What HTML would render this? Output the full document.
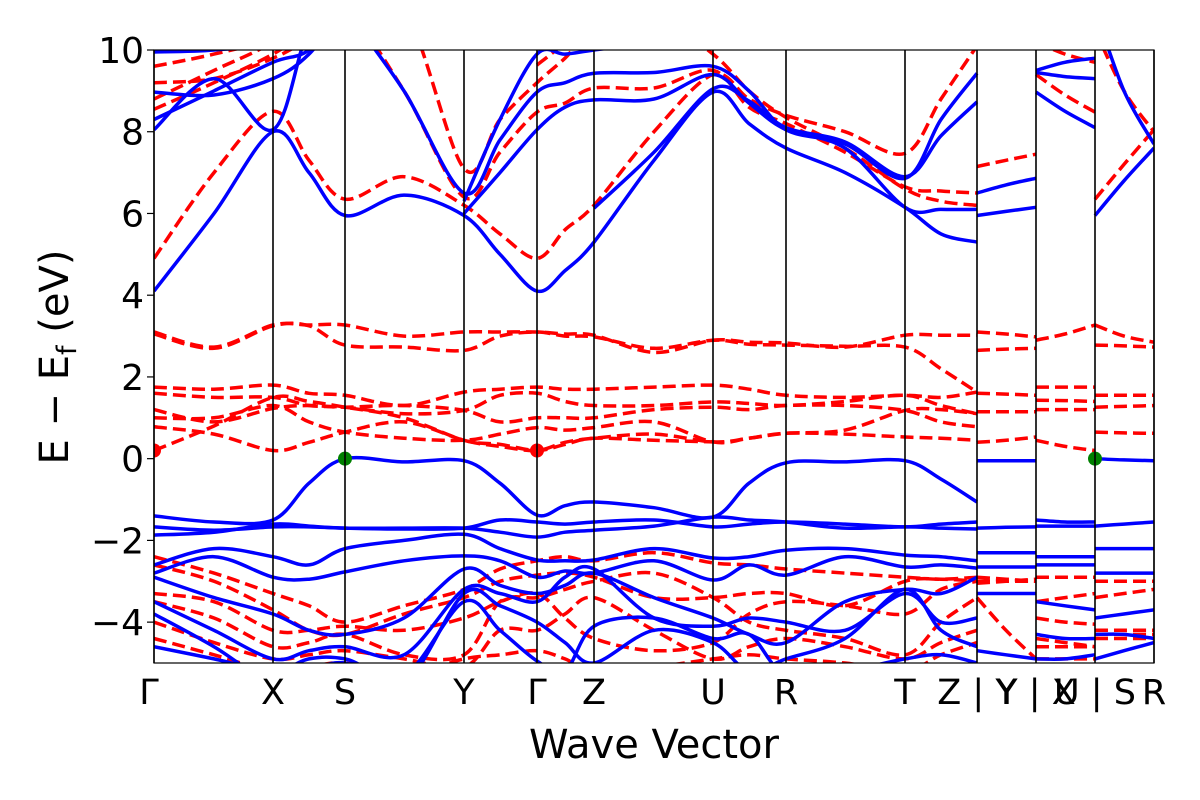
<!DOCTYPE html>
<html><head><meta charset="utf-8">
<style>
html,body{margin:0;padding:0;background:#fff;}
svg{display:block;font-family:"DejaVu Sans","Liberation Sans",sans-serif;}
</style></head>
<body>
<svg id="chart" width="1200" height="800" viewBox="0 0 1200 800" xmlns="http://www.w3.org/2000/svg">
<defs><clipPath id="clip"><rect x="154" y="50" width="1000" height="613"/></clipPath></defs>
<g id="bands" clip-path="url(#clip)"></g>
<g id="axes"></g>
<text x="654" y="758" text-anchor="middle" font-size="40">Wave Vector</text>
<text transform="translate(68,357) rotate(-90)" text-anchor="middle" font-size="40">E − E<tspan font-size="27" dy="8">f</tspan><tspan dy="-8"> (eV)</tspan></text>
</svg>
<script>
// k-path distances of sample knots (main path + three disconnected segments)
const kMain = [0,60,119,155,191,250,310,346,383,411,440,500,559,595,632,691,751,787,823];
const kSegA = [823,852,882];
const kSegB = [882,911,941];
const kSegC = [941,970,1000];
const kTicks = [0,119,191,310,383,440,559,632,751,823,882,941,1000];
const kTickLabels = ["Γ","X","S","Y","Γ","Z","U","R","T","Z | Y","Y | X","U | S","R"];
const yTicks = [-4,-2,0,2,4,6,8,10];
const yTickLabels = ["−4","−2","0","2","4","6","8","10"];
const n = null;
// spin-up (blue solid) bands: 19 main values + segA(3) + segB(3) + segC(3)
const blueBands = [
 [4.1,6.0,8.0,7.0,5.95,6.45,5.95,5.0,4.1,4.6,5.3,7.3,8.97,8.2,7.6,7.0,6.15,5.5,5.3, 5.95,6.05,6.15, n,n,n, 5.95,6.8,7.6],
 [8.05,9.3,8.05,10.5,11,n,n,n,n,n,n,n,n,n,n,n,n,n,n, n,n,n, n,n,n, n,n,n],
 [8.97,8.9,9.3,9.9,11,n,n,n,n,n,n,n,n,n,n,n,n,n,n, n,n,n, 8.97,8.5,8.1, n,n,n],
 [8.3,9.0,9.7,10.0,11,n,n,n,n,n,n,n,n,n,n,n,n,n,n, n,n,n, 9.45,9.35,9.3, n,n,n],
 [9.95,10.0,10.2,11,n,n,n,n,n,n,n,n,n,n,n,n,n,n,n, n,n,n, 9.5,9.7,9.8, n,n,n],
 [n,n,n,n,11,9.0,6.5,7.8,8.97,9.2,9.43,9.45,9.6,9.0,8.05,7.7,6.86,8.3,9.43, 6.5,6.7,6.86, n,n,n, n,n,n],
 [n,n,n,n,n,n,6.0,7.0,8.05,8.6,8.78,8.8,9.4,8.7,8.05,7.6,6.15,6.1,6.1, n,n,n, n,n,n, n,n,n],
 [n,n,n,n,n,n,6.3,8.3,9.9,9.9,10.0,10.2,10.6,n,n,n,n,n,n, n,n,n, n,n,n, 11,9.0,7.7],
 [n,n,n,n,n,n,n,n,n,n,6.13,7.5,9.05,8.75,8.1,7.75,6.9,7.9,8.73, n,n,n, n,n,n, n,n,n],
 [-1.4,-1.55,-1.5,-0.6,0,-0.08,-0.05,-0.6,-1.38,-1.15,-1.06,-1.2,-1.43,-0.6,-0.1,-0.08,-0.05,-0.5,-1.06, -0.05,-0.05,-0.05, n,n,n, 0,-0.03,-0.05],
 [-1.67,-1.75,-1.67,-1.67,-1.7,-1.72,-1.7,-1.5,-1.55,-1.6,-1.55,-1.5,-1.67,-1.6,-1.55,-1.6,-1.67,-1.6,-1.55, -1.7,-1.68,-1.67, -1.5,-1.55,-1.55, -1.65,-1.6,-1.55],
 [-1.87,-1.8,-1.6,-1.65,-1.7,-1.7,-1.7,-1.8,-1.92,-1.8,-1.75,-1.65,-1.43,-1.5,-1.55,-1.7,-1.67,-1.7,-1.72, n,n,n, -1.65,-1.65,-1.65, n,n,n],
 [-2.6,-2.2,-2.4,-2.6,-2.2,-2.0,-1.85,-2.2,-2.48,-2.5,-2.48,-2.2,-2.43,-2.4,-2.24,-2.2,-2.36,-2.4,-2.5, -2.3,-2.3,-2.3, -2.4,-2.4,-2.4, -2.2,-2.2,-2.2],
 [-2.8,-2.4,-2.9,-2.95,-2.77,-2.5,-2.38,-2.5,-2.9,-2.75,-2.8,-2.5,-2.97,-2.6,-2.85,-2.4,-2.65,-2.6,-2.68, -2.65,-2.65,-2.65, -2.6,-2.6,-2.6, -2.8,-2.8,-2.8],
 [-2.9,-3.4,-3.8,-4.2,-4.3,-3.9,-2.7,-3.1,-3.3,-3.1,-2.8,-3.4,-3.9,-4.3,-4.5,-3.5,-3.2,-3.3,-2.9, -3.3,-3.3,-3.3, -3.5,-3.6,-3.7, -3.9,-3.8,-3.7],
 [-3.5,-4.2,-4.9,-4.7,-4.6,-4.8,-3.2,-3.3,-3.5,-2.9,-2.7,-3.9,-4.1,-3.9,-4.0,-4.2,-3.3,-4.0,-3.9, -4.7,-4.8,-4.9, -4.3,-4.4,-4.4, -4.3,-4.3,-4.4],
 [-3.8,-4.6,-5.5,-5.2,-5.0,-5.5,-3.3,-3.6,-4.0,-4.5,-5.0,-4.2,-4.5,-5.2,-4.9,-4.4,-3.2,-4.2,-4.6, n,n,n, -4.9,-4.9,-4.8, -4.9,-4.7,-4.5],
 [-4.6,-4.9,-5.2,-4.9,-4.9,-5.3,-3.5,-4.2,-4.95,-5.2,-4.1,-3.9,-4.4,-4.3,-5.3,-5.2,-4.9,-4.8,-5.0, n,n,n, n,n,n, n,n,n]
];
// spin-down (red dashed) bands
const redBands = [
 [4.9,7.0,8.5,7.3,6.35,6.9,6.2,5.5,4.9,5.6,6.2,8.0,9.4,8.8,8.4,8.0,7.47,8.8,10.1, 7.15,7.3,7.45, n,n,n, 6.35,7.2,8.05],
 [8.55,9.2,9.9,10.5,11,9.0,6.4,7.5,8.48,8.7,9.07,9.07,9.5,8.6,8.2,7.5,6.65,6.55,6.5, n,n,n, 9.4,8.9,8.48, 10.5,9.0,8.0],
 [8.8,9.5,10.2,11,11,11,7.1,8.3,9.2,9.8,10.5,10.8,9.9,9.0,8.35,7.6,6.6,6.3,6.2, n,n,n, n,n,n, n,n,n],
 [9.2,9.3,9.8,10.3,11,n,n,n,9.63,10.2,11,n,n,n,n,n,n,n,n, n,n,n, 10.2,9.9,9.7, n,n,n],
 [9.6,9.9,10.3,11,n,n,n,n,n,n,n,n,n,n,n,n,n,n,n, n,n,n, n,n,n, n,n,n],
 [3.1,2.73,3.27,3.27,3.27,3.0,3.1,3.1,3.1,3.05,3.02,2.6,2.9,2.85,2.83,2.73,3.02,3.02,3.02, 3.1,3.05,2.98, 2.9,3.05,3.27, 3.27,3.0,2.85],
 [3.05,2.7,3.25,3.25,2.78,2.73,2.65,3.0,3.1,3.0,2.98,2.7,2.9,2.8,2.78,2.75,2.73,2.2,1.63, 2.65,2.68,2.7, n,n,n, 2.78,2.76,2.73],
 [1.75,1.7,1.8,1.6,1.55,1.3,1.63,1.7,1.75,1.7,1.7,1.75,1.8,1.7,1.55,1.5,1.55,1.5,1.63, 1.6,1.58,1.55, 1.75,1.75,1.75, 1.55,1.55,1.55],
 [1.6,1.5,1.5,1.3,1.26,1.1,1.18,1.55,1.6,1.4,1.3,1.3,1.39,1.35,1.3,1.4,1.55,1.3,1.1, 1.15,1.15,1.15, 1.43,1.42,1.4, 1.26,1.28,1.3],
 [1.2,0.9,1.23,1.3,1.26,1.3,1.18,0.9,1.0,1.0,1.0,1.2,1.26,1.2,1.3,1.3,1.18,0.9,0.78, n,n,n, 1.2,1.2,1.2, n,n,n],
 [1.0,1.0,1.3,0.9,0.65,0.5,0.45,0.6,0.76,0.7,0.76,0.9,0.41,0.5,0.62,0.6,0.53,0.5,0.45, 0.4,0.45,0.53, 0.45,0.3,0.2, 0.65,0.63,0.62],
 [0.78,0.6,0.2,0.4,0.65,0.9,0.45,0.3,0.2,0.4,0.5,0.6,0.41,0.5,0.62,0.7,1.18,1.2,1.1, n,n,n, n,n,n, n,n,n],
 [0.2,0.8,1.5,1.4,1.26,1.0,0.45,0.35,0.2,0.35,0.5,0.45,0.41,n,n,n,n,n,n, n,n,n, n,n,n, n,n,n],
 [-2.4,-2.8,-3.3,-3.6,-4.0,-3.6,-3.2,-2.7,-2.5,-2.4,-2.5,-2.3,-2.55,-2.6,-2.7,-2.8,-2.9,-2.95,-2.9, -2.9,-2.95,-3.0, -2.9,-2.9,-2.9, -3.0,-3.0,-3.0],
 [-2.6,-3.0,-3.7,-4.2,-4.3,-3.8,-3.4,-3.0,-2.85,-2.8,-2.9,-3.4,-3.4,-3.3,-3.3,-3.6,-3.0,-2.95,-3.0, -3.05,-3.0,-2.95, -3.5,-3.4,-3.3, -3.4,-3.3,-3.2],
 [-3.3,-3.5,-4.2,-4.2,-4.1,-4.2,-3.9,-3.5,-3.3,-3.9,-4.4,-4.7,-4.5,-3.8,-3.5,-3.6,-3.8,-3.2,-3.0, -3.0,-3.0,-3.0, -3.9,-4.0,-4.05, -4.2,-4.2,-4.2],
 [-3.5,-3.9,-4.6,-4.5,-4.3,-4.8,-4.8,-3.5,-3.4,-3.2,-3.0,-2.8,-3.4,-4.0,-4.2,-4.4,-4.8,-4.0,-3.4, -3.4,-4.2,-4.9, -4.4,-4.5,-4.6, -4.3,-4.3,-4.3],
 [-4.0,-4.5,-4.9,-4.8,-4.7,-4.9,-5.1,-4.2,-4.2,-3.8,-3.4,-4.2,-4.9,-4.6,-4.4,-4.6,-4.9,-4.5,-4.2, n,n,n, -4.6,-4.6,-4.6, -4.4,-4.4,-4.4],
 [-4.4,-4.8,-5.2,-5.1,-5.0,-5.3,-4.9,-4.8,-4.7,-4.9,-5.2,-5.1,-4.9,-4.8,-4.9,-5.0,-5.2,-4.8,-4.5, n,n,n, -4.9,-4.9,-4.9, n,n,n]
];
const vbmK = [191, 941];
const vbmE = [0, 0];
const cbmK = [0, 383];
const cbmE = [0.2, 0.2];

const NS = "http://www.w3.org/2000/svg";
const X0 = 154, X1 = 1154, Y0 = 50, Y1 = 663, EMIN = -5, EMAX = 10, KMAX = 1000;
function xs(k){ return X0 + (k / KMAX) * (X1 - X0); }
function ys(e){ return Y1 - (e - EMIN) / (EMAX - EMIN) * (Y1 - Y0); }

function smoothPath(pts){
  if (pts.length < 2) return "";
  let d = "M" + pts[0][0].toFixed(1) + "," + pts[0][1].toFixed(1);
  for (let i = 0; i < pts.length - 1; i++){
    const p0 = pts[i-1] || pts[i], p1 = pts[i], p2 = pts[i+1], p3 = pts[i+2] || pts[i+1];
    const c1x = p1[0] + (p2[0]-p0[0])/6, c1y = p1[1] + (p2[1]-p0[1])/6;
    const c2x = p2[0] - (p3[0]-p1[0])/6, c2y = p2[1] - (p3[1]-p1[1])/6;
    d += " C" + c1x.toFixed(1)+","+c1y.toFixed(1)+" "+c2x.toFixed(1)+","+c2y.toFixed(1)+" "+p2[0].toFixed(1)+","+p2[1].toFixed(1);
  }
  return d;
}
function bandPath(vals){
  const groups = [[kMain,0],[kSegA,19],[kSegB,22],[kSegC,25]];
  let d = "";
  groups.forEach(([ks, off]) => {
    let run = [];
    ks.forEach((k, i) => {
      const v = vals[off + i];
      if (v === null || v === undefined){ d += smoothPath(run) + " "; run = []; }
      else run.push([xs(k), ys(v)]);
    });
    d += smoothPath(run) + " ";
  });
  return d;
}
const bandsG = document.getElementById("bands");
redBands.forEach((b, i) => {
  const p = document.createElementNS(NS, "path");
  p.setAttribute("d", bandPath(b));
  p.setAttribute("fill", "none");
  p.setAttribute("stroke", "#ff0000");
  p.setAttribute("stroke-width", "3.5");
  p.setAttribute("stroke-dasharray", "13,6");
  
  
  bandsG.appendChild(p);
});
blueBands.forEach((b, i) => {
  const p = document.createElementNS(NS, "path");
  p.setAttribute("d", bandPath(b));
  p.setAttribute("fill", "none");
  p.setAttribute("stroke", "#0000ff");
  p.setAttribute("stroke-width", "3.5");
  
  
  bandsG.appendChild(p);
});
cbmK.forEach((k, i) => {
  const c = document.createElementNS(NS, "circle");
  c.setAttribute("cx", xs(k)); c.setAttribute("cy", ys(cbmE[i])); c.setAttribute("r", 7);
  c.setAttribute("fill", "#ff0000");
  
  
  bandsG.appendChild(c);
});
vbmK.forEach((k, i) => {
  const c = document.createElementNS(NS, "circle");
  c.setAttribute("cx", xs(k)); c.setAttribute("cy", ys(vbmE[i])); c.setAttribute("r", 7);
  c.setAttribute("fill", "#008000");
  
  
  bandsG.appendChild(c);
});

const axes = document.getElementById("axes");
kTicks.forEach((k, i) => {
  const l = document.createElementNS(NS, "line");
  l.setAttribute("x1", xs(k)); l.setAttribute("x2", xs(k));
  l.setAttribute("y1", Y0); l.setAttribute("y2", Y1);
  l.setAttribute("stroke", "#000"); l.setAttribute("stroke-width", "1.6");
  
  
  axes.appendChild(l);
  const t = document.createElementNS(NS, "text");
  t.setAttribute("x", xs(k) - (i === 0 ? 5 : 0)); t.setAttribute("y", 704);
  t.setAttribute("text-anchor", "middle"); t.setAttribute("font-size", "35");
  t.textContent = kTickLabels[i];
  
  
  axes.appendChild(t);
});
yTicks.forEach((e, i) => {
  const l = document.createElementNS(NS, "line");
  l.setAttribute("x1", X0 - 7); l.setAttribute("x2", X0);
  l.setAttribute("y1", ys(e)); l.setAttribute("y2", ys(e));
  l.setAttribute("stroke", "#000"); l.setAttribute("stroke-width", "1.2");
  
  
  axes.appendChild(l);
  const t = document.createElementNS(NS, "text");
  t.setAttribute("x", X0 - 10); t.setAttribute("y", ys(e) + 13);
  t.setAttribute("text-anchor", "end"); t.setAttribute("font-size", "36");
  t.textContent = yTickLabels[i];
  
  
  axes.appendChild(t);
});
const frame = document.createElementNS(NS, "rect");
frame.setAttribute("x", X0); frame.setAttribute("y", Y0);
frame.setAttribute("width", X1 - X0); frame.setAttribute("height", Y1 - Y0);
frame.setAttribute("fill", "none"); frame.setAttribute("stroke", "#000"); frame.setAttribute("stroke-width", "1.2");


axes.appendChild(frame);
</script>
</body></html>
